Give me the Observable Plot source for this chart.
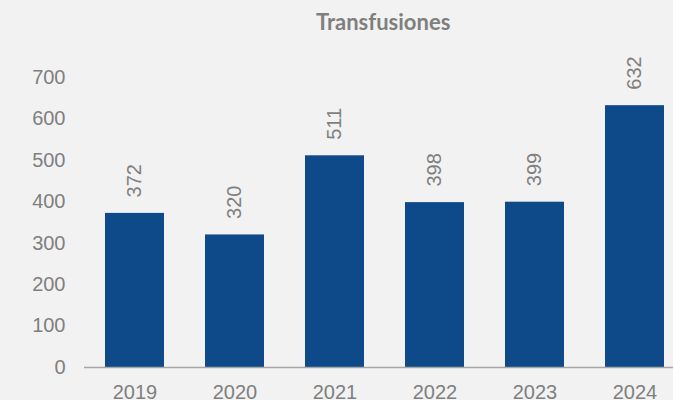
<!DOCTYPE html>
<html>
<head>
<meta charset="utf-8">
<script src="https://cdn.jsdelivr.net/npm/d3@7"></script>
<script src="https://cdn.jsdelivr.net/npm/@observablehq/plot@0.6"></script>
<style>
  html, body { margin: 0; padding: 0; background: #f2f2f2; overflow: hidden; width: 673px; height: 400px; }
  #title { height: 45px; box-sizing: border-box; padding-top: 9px; padding-left: 316px; font-family: Lato, "Open Sans", sans-serif; font-weight: bold; font-size: 22px; line-height: 26px; color: #7f7f7f; white-space: nowrap; }
  #chart svg { display: block; max-width: none !important; }
</style>
</head>
<body>
<div id="title">Transfusiones</div>
<div id="chart"></div>
<script>
const years = ["2019", "2020", "2021", "2022", "2023", "2024"];
const values = [372, 320, 511, 398, 399, 632];
const yTicks = [0, 100, 200, 300, 400, 500, 600, 700];

const data = years.map((year, i) => ({year, value: values[i]}));

const chart = Plot.plot({
  width: 685,
  height: 355,
  marginLeft: 84,
  marginRight: 1,
  marginTop: 32,
  marginBottom: 33,
  style: {background: "#f2f2f2", color: "#7f7f7f", fontFamily: "Arial, 'Liberation Sans', sans-serif", fontSize: "20px", maxWidth: "none"},
  x: {domain: years, paddingInner: 0.41, paddingOuter: 0.205, label: null},
  y: {domain: [0, 700], label: null},
  marks: [
    Plot.axisY({ticks: yTicks, tickSize: 0, tickPadding: 19, fontSize: 20, label: null}),
    Plot.axisX({tickSize: 0, tickPadding: 17, fontSize: 20, label: null}),
    Plot.barY(data, {x: "year", y: "value", fill: "#0e4a8a"}),
    Plot.ruleY([0], {stroke: "#a6a6a6", strokeWidth: 1.3}),
    Plot.text(data, {x: "year", y: "value", text: d => String(d.value), rotate: -90, textAnchor: "start", lineAnchor: "middle", dy: -16, fontSize: 20, fill: "#7f7f7f"})
  ]
});
document.getElementById("chart").appendChild(chart);
</script>
</body>
</html>
